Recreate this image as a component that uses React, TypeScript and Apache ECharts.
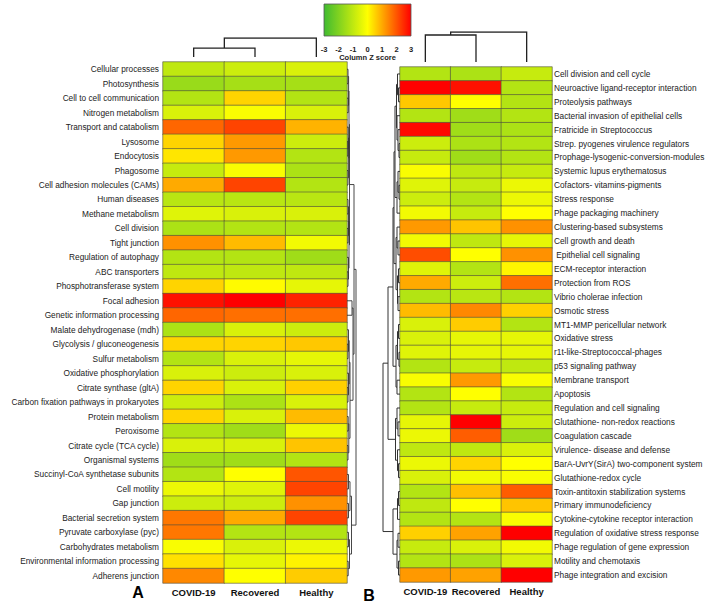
import React, { useEffect, useRef } from "react";
import * as echarts from "echarts";

const columns = ["COVID-19", "Recovered", "Healthy"];

const rowsA = [
  "Cellular processes", "Photosynthesis", "Cell to cell communication", "Nitrogen metabolism",
  "Transport and catabolism", "Lysosome", "Endocytosis", "Phagosome", "Cell adhesion molecules (CAMs)",
  "Human diseases", "Methane metabolism", "Cell division", "Tight junction", "Regulation of autophagy",
  "ABC transporters", "Phosphotransferase system", "Focal adhesion", "Genetic information processing",
  "Malate dehydrogenase (mdh)", "Glycolysis / gluconeogenesis", "Sulfur metabolism",
  "Oxidative phosphorylation", "Citrate synthase (gltA)", "Carbon fixation pathways in prokaryotes",
  "Protein metabolism", "Peroxisome", "Citrate cycle (TCA cycle)", "Organismal systems",
  "Succinyl-CoA synthetase subunits", "Cell motility", "Gap junction", "Bacterial secretion system",
  "Pyruvate carboxylase (pyc)", "Carbohydrates metabolism", "Environmental information processing",
  "Adherens junction",
];
const covidA = [-1.0, -1.6, -1.2, -0.6, 1.8, 0.5, 0.3, -0.9, 1.0, -1.1, -0.5, -1.3, 1.3, -1.2, -1.0, 0.5, 2.8, 1.8, -1.3, 0.5, -1.2, -0.6, 0.5, -0.8, 0.5, -1.2, -0.6, -1.5, -1.2, -0.3, -0.8, 1.6, 1.6, -0.1, 0.35, 1.4];
const recoveredA = [-0.8, -1.4, 0.5, -0.1, 2.2, 1.2, 1.2, -0.1, 2.2, -1.1, -0.6, -1.2, 0.8, -1.2, -1.0, 0.05, 3.0, 1.7, -0.6, 0.5, -0.6, -0.8, -0.6, -1.3, -0.6, -1.5, -0.6, -1.5, 0.0, -0.5, -0.8, 1.0, -1.2, -0.6, -0.4, 0.0];
const healthyA = [-0.6, -1.4, -1.2, -0.6, 0.9, -0.8, -1.2, -1.3, -1.2, -1.1, -0.6, -1.2, -0.2, -1.5, -1.0, -0.4, 2.6, 1.7, -0.8, 0.65, -0.4, -0.6, 0.55, -0.6, 0.8, -0.3, 0.7, -1.2, 2.0, 2.2, 1.3, 2.2, -1.2, -0.3, 0.15, 0.6];

const rowsB = [
  "Cell division and cell cycle", "Neuroactive ligand-receptor interaction", "Proteolysis pathways",
  "Bacterial invasion of epithelial cells", "Fratricide in Streptococcus", "Strep. pyogenes virulence regulators",
  "Prophage-lysogenic-conversion-modules", "Systemic lupus erythematosus", "Cofactors- vitamins-pigments",
  "Stress response", "Phage packaging machinery", "Clustering-based subsystems", "Cell growth and death",
  " Epithelial cell signaling", "ECM-receptor interaction", "Protection from ROS", "Vibrio cholerae infection",
  "Osmotic stress", "MT1-MMP pericellular network", "Oxidative stress", "r1t-like-Streptococcal-phages",
  "p53 signaling pathway", "Membrane transport", "Apoptosis", "Regulation and cell signaling",
  "Glutathione- non-redox reactions", "Coagulation cascade", "Virulence- disease and defense",
  "BarA-UvrY(SirA) two-component system", "Glutathione-redox cycle", "Toxin-antitoxin stabilization systems",
  "Primary immunodeficiency", "Cytokine-cytokine receptor interaction", "Regulation of oxidative stress response",
  "Phage regulation of gene expression", "Motility and chemotaxis", "Phage integration and excision",
];
const covidB = [-1.2, 3.0, 0.65, -1.2, 2.9, -0.8, -0.9, -0.1, -0.5, -0.8, -0.2, 1.2, -0.2, 2.1, -0.5, 1.0, -1.2, 0.8, -0.6, -0.6, -0.5, -1.2, -0.1, -1.2, -1.2, -0.4, -0.3, -1.0, -0.3, -0.6, -1.2, -1.0, -1.2, 0.55, -0.9, -1.2, 1.2];
const recoveredB = [-1.3, 2.8, 0.0, -1.5, -1.5, -1.3, -1.5, -1.0, -0.9, -1.2, -0.9, 0.7, -1.0, 0.0, -1.2, -0.8, -1.1, 1.4, 0.6, -0.4, -0.4, -0.9, 1.2, 0.0, -0.9, 3.0, 1.9, -1.0, 0.5, -0.2, 0.75, 0.0, -1.2, 1.1, -0.6, -1.3, 1.1];
const healthyB = [-0.9, -1.2, -1.2, -1.2, -1.3, -1.2, -1.2, -0.9, -0.3, -0.3, 0.0, 1.3, -0.4, 1.3, 0.1, 1.7, -1.2, 0.55, -1.2, -0.4, -0.4, -1.0, -0.1, -1.2, -0.9, -0.8, -1.5, -0.6, 0.0, -0.1, 1.9, 0.7, -0.1, 3.0, -0.2, -0.6, 3.0];

const scaleTicks = [-3, -2, -1, 0, 1, 2, 3];
const scaleColors = ["#40bb30", "#ffff00", "#ff0000"];

// dendrogram trees: leaf = index, node = [left, right, height]
const colTreeA: any = [[0, 1, 4.7], 2, 10];
const colTreeB: any = [[0, 1, 9], 2, 10];
const rowTreeA: any = [
  [
    [
      [[[0, 1, 1], [2, 3, 1.2], 1.6], [[4, [5, 6, 0.8], 1.2], [7, 8, 1], 1.6], 2],
      [[[9, 10, 1], [11, 12, 1], 1.5], [13, [14, 15, 1], 1.5], 2],
      2.5,
    ],
    [[16, 17, 5], [[[18, [19, 20, 1], 1.5], [21, [22, 23, 1], 1.5], 2.2], [[24, 25, 1.2], [26, 27, 1], 1.8], 3], 6],
    7,
  ],
  [[[28, 29, 1.5], [30, 31, 1.5], 3], [[32, 33, 1.5], [34, 35, 1.2], 2.5], 4.5],
  9,
];
const rowTreeB: any = [
  [
    [
      [
        [[[0, [1, 2, 1.5], 2.5], [3, [4, [5, 6, 1], 2], 3], 3.5], [[7, [8, 9, 1], 2], 10, 3], 5],
        [[11, [12, 13, 2], 3], [[14, 15, 1.5], [16, 17, 2], 2.5], 4],
        6,
      ],
      [[[18, 19, 1.5], [20, 21, 1], 2.5], [22, 23, 3], 4],
      7,
    ],
    [[24, [25, 26, 2], 3], [27, [28, 29, 1.5], 2.5], 4.5],
    12,
  ],
  [[[30, 31, 1.5], 32, 2.5], [[33, 34, 2], [35, 36, 1.5], 3], 7],
  17,
];

function treeSegments(tree: any, vertical: boolean) {
  const segs: any[] = [];
  const walk = (node: any): { p: number; h: number } => {
    if (typeof node === "number") return { p: node + 0.5, h: 0 };
    const a = walk(node[0]);
    const b = walk(node[1]);
    const h = node[2];
    const pts = [[a.h, a.p], [h, a.p], [h, b.p], [b.h, b.p]];
    segs.push({ coords: vertical ? pts.map((q) => [q[1], q[0]]) : pts });
    return { p: (a.p + b.p) / 2, h };
  };
  walk(tree);
  return segs;
}

function heatData(c: number[], r: number[], h: number[]) {
  const out: any[] = [];
  c.forEach((v, i) => {
    out.push([0, i, v]);
    out.push([1, i, r[i]]);
    out.push([2, i, h[i]]);
  });
  return out;
}

const FONT = "'Liberation Sans', Arial, sans-serif";

export default function App() {
  const ref = useRef<HTMLDivElement>(null);
  useEffect(() => {
    const chart = echarts.init(ref.current!, null, { renderer: "svg" });
    const hidden = { show: false };
    const dendroLine = { color: "#222", width: 1, opacity: 1 };
    const colLabel = { fontFamily: FONT, fontSize: 9.5, fontWeight: "bold", color: "#111", margin: 4, interval: 0 };
    const option: any = {
      animation: false,
      backgroundColor: "#ffffff",
      grid: [
        { left: 163, top: 62, width: 184, height: 521 },
        { left: 400, top: 67, width: 152, height: 515 },
        { left: 163, top: 38, width: 184, height: 19 },
        { left: 400, top: 32, width: 152, height: 30 },
        { left: 347, top: 62, width: 10, height: 521 },
        { left: 383, top: 67, width: 17, height: 515 },
        { left: 324, top: 4, width: 87, height: 32 },
      ],
      xAxis: [
        {
          gridIndex: 0, type: "category", data: columns, position: "bottom",
          axisLine: hidden, axisTick: hidden, splitLine: hidden, axisLabel: colLabel,
        },
        {
          gridIndex: 1, type: "category", data: columns, position: "bottom",
          axisLine: hidden, axisTick: hidden, splitLine: hidden, axisLabel: colLabel,
        },
        { gridIndex: 2, type: "value", min: 0, max: 3, show: false },
        { gridIndex: 3, type: "value", min: 0, max: 3, show: false },
        { gridIndex: 4, type: "value", min: 0, max: 10, show: false },
        { gridIndex: 5, type: "value", min: 0, max: 17, inverse: true, show: false },
        {
          gridIndex: 6, type: "value", min: -3, max: 3, interval: 1, position: "bottom",
          axisLine: hidden, axisTick: hidden, splitLine: hidden,
          axisLabel: { fontFamily: FONT, fontSize: 7.5, fontWeight: "bold", color: "#222", margin: 9 },
          name: "Column Z score", nameLocation: "middle", nameGap: 16,
          nameTextStyle: { fontFamily: FONT, fontSize: 7.5, fontWeight: "bold", color: "#222" },
        },
      ],
      yAxis: [
        {
          gridIndex: 0, type: "category", data: rowsA, inverse: true,
          axisLine: hidden, axisTick: hidden, splitLine: hidden,
          axisLabel: { fontFamily: FONT, fontSize: 8.3, color: "#222", margin: 4, interval: 0 },
        },
        {
          gridIndex: 1, type: "category", data: rowsB, inverse: true, position: "right",
          axisLine: hidden, axisTick: hidden, splitLine: hidden,
          axisLabel: { fontFamily: FONT, fontSize: 8.3, color: "#222", margin: 2, interval: 0 },
        },
        { gridIndex: 2, type: "value", min: 0, max: 10, show: false },
        { gridIndex: 3, type: "value", min: 0, max: 10, show: false },
        { gridIndex: 4, type: "value", min: 0, max: rowsA.length, inverse: true, show: false },
        { gridIndex: 5, type: "value", min: 0, max: rowsB.length, inverse: true, show: false },
        { gridIndex: 6, type: "value", min: 0, max: 1, show: false },
      ],
      visualMap: {
        type: "continuous", min: -3, max: 3, show: false, seriesIndex: [0, 1],
        inRange: { color: scaleColors },
      },
      series: [
        {
          type: "heatmap", xAxisIndex: 0, yAxisIndex: 0, data: heatData(covidA, recoveredA, healthyA),
          itemStyle: { borderColor: "#4d4d40", borderWidth: 0.6 }, emphasis: { disabled: true }, silent: true,
        },
        {
          type: "heatmap", xAxisIndex: 1, yAxisIndex: 1, data: heatData(covidB, recoveredB, healthyB),
          itemStyle: { borderColor: "#4d4d40", borderWidth: 0.6 }, emphasis: { disabled: true }, silent: true,
        },
        {
          type: "lines", coordinateSystem: "cartesian2d", xAxisIndex: 2, yAxisIndex: 2, polyline: true,
          lineStyle: { ...dendroLine, width: 1.3 }, silent: true, data: treeSegments(colTreeA, true),
        },
        {
          type: "lines", coordinateSystem: "cartesian2d", xAxisIndex: 3, yAxisIndex: 3, polyline: true,
          lineStyle: { ...dendroLine, width: 1.3 }, silent: true, data: treeSegments(colTreeB, true),
        },
        {
          type: "lines", coordinateSystem: "cartesian2d", xAxisIndex: 4, yAxisIndex: 4, polyline: true,
          lineStyle: { ...dendroLine, color: "#333", width: 0.9 }, silent: true, data: treeSegments(rowTreeA, false),
        },
        {
          type: "lines", coordinateSystem: "cartesian2d", xAxisIndex: 5, yAxisIndex: 5, polyline: true,
          lineStyle: { ...dendroLine, color: "#333", width: 1 }, silent: true, data: treeSegments(rowTreeB, false),
        },
        {
          type: "custom", xAxisIndex: 6, yAxisIndex: 6, silent: true,
          data: [[scaleTicks[0], scaleTicks[scaleTicks.length - 1]]],
          renderItem: (params: any, api: any) => {
            const p0 = api.coord([api.value(0), 1]);
            const p1 = api.coord([api.value(1), 0]);
            return {
              type: "rect",
              shape: { x: p0[0], y: p0[1], width: p1[0] - p0[0], height: p1[1] - p0[1] },
              style: {
                fill: new echarts.graphic.LinearGradient(0, 0, 1, 0, [
                  { offset: 0, color: scaleColors[0] },
                  { offset: 0.5, color: scaleColors[1] },
                  { offset: 1, color: scaleColors[2] },
                ]),
                stroke: "#555",
                lineWidth: 0.8,
              },
            };
          },
        },
      ],
      graphic: [
        {
          type: "text", x: 138, y: 592,
          style: { text: "A", fontFamily: FONT, fontSize: 16, fontWeight: "bold", fill: "#000", align: "center", verticalAlign: "middle" },
        },
        {
          type: "text", x: 369, y: 595,
          style: { text: "B", fontFamily: FONT, fontSize: 16, fontWeight: "bold", fill: "#000", align: "center", verticalAlign: "middle" },
        },
      ],
    };
    chart.setOption(option);
    return () => chart.dispose();
  }, []);
  return (
    <div
      ref={ref}
      style={{ position: "fixed", left: 0, top: 0, width: 708, height: 607, background: "#fff" }}
    />
  );
}
